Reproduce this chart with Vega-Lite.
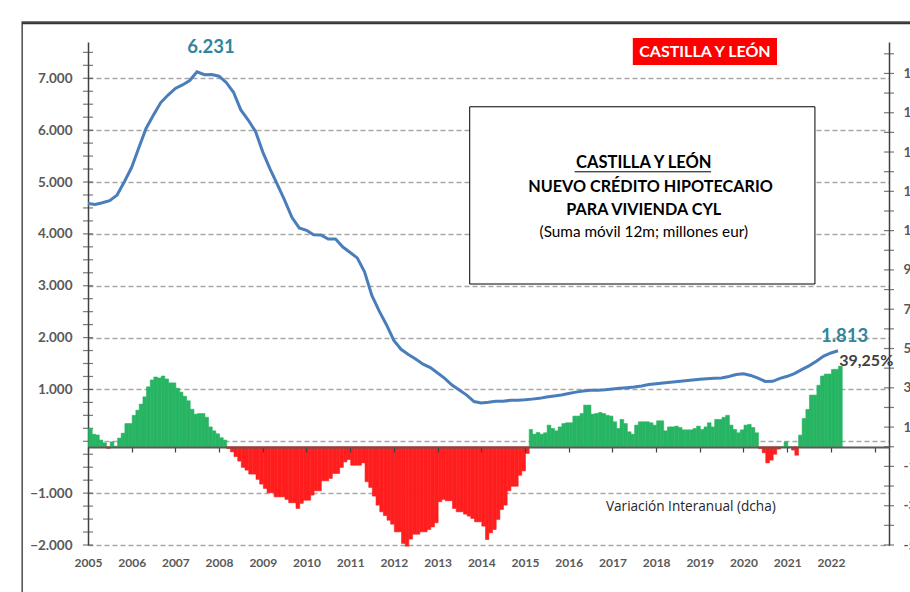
{
  "$schema": "https://vega.github.io/schema/vega-lite/v6.json",
  "width": 801,
  "height": 503,
  "autosize": {"type": "none"},
  "padding": {"left": 88, "top": 42, "right": 21, "bottom": 47},
  "background": "white",
  "config": {"view": {"stroke": null}, "font": "Lato"},
  "datasets": {
    "credito": [
      {"d":"2005-01","c":4586},{"d":"2005-03","c":4567},{"d":"2005-05","c":4600},{"d":"2005-07","c":4640},{"d":"2005-09","c":4748},{"d":"2005-11","c":5006},
      {"d":"2006-01","c":5284},{"d":"2006-03","c":5654},{"d":"2006-05","c":6033},{"d":"2006-07","c":6286},{"d":"2006-09","c":6532},{"d":"2006-11","c":6677},
      {"d":"2007-01","c":6805},{"d":"2007-03","c":6872},{"d":"2007-05","c":6956},{"d":"2007-07","c":7126},{"d":"2007-09","c":7070},{"d":"2007-11","c":7072},
      {"d":"2008-01","c":7040},{"d":"2008-03","c":6920},{"d":"2008-05","c":6730},{"d":"2008-07","c":6390},{"d":"2008-09","c":6195},{"d":"2008-11","c":5975},
      {"d":"2009-01","c":5577},{"d":"2009-03","c":5257},{"d":"2009-05","c":4958},{"d":"2009-07","c":4655},{"d":"2009-09","c":4318},{"d":"2009-11","c":4114},
      {"d":"2010-01","c":4068},{"d":"2010-03","c":3984},{"d":"2010-05","c":3978},{"d":"2010-07","c":3900},{"d":"2010-09","c":3903},{"d":"2010-11","c":3746},
      {"d":"2011-01","c":3640},{"d":"2011-03","c":3536},{"d":"2011-05","c":3266},{"d":"2011-07","c":2813},{"d":"2011-09","c":2509},{"d":"2011-11","c":2243},
      {"d":"2012-01","c":1944},{"d":"2012-03","c":1774},{"d":"2012-05","c":1674},{"d":"2012-07","c":1587},{"d":"2012-09","c":1487},{"d":"2012-11","c":1421},
      {"d":"2013-01","c":1318},{"d":"2013-03","c":1215},{"d":"2013-05","c":1084},{"d":"2013-07","c":989},{"d":"2013-09","c":890},{"d":"2013-11","c":766},
      {"d":"2014-01","c":738},{"d":"2014-03","c":752},{"d":"2014-05","c":771},{"d":"2014-07","c":771},{"d":"2014-09","c":790},{"d":"2014-11","c":790},
      {"d":"2015-01","c":800},{"d":"2015-03","c":813},{"d":"2015-05","c":828},{"d":"2015-07","c":855},{"d":"2015-09","c":875},{"d":"2015-11","c":892},
      {"d":"2016-01","c":920},{"d":"2016-03","c":948},{"d":"2016-05","c":970},{"d":"2016-07","c":983},{"d":"2016-09","c":983},{"d":"2016-11","c":993},
      {"d":"2017-01","c":1007},{"d":"2017-03","c":1021},{"d":"2017-05","c":1034},{"d":"2017-07","c":1048},{"d":"2017-09","c":1066},{"d":"2017-11","c":1094},
      {"d":"2018-01","c":1110},{"d":"2018-03","c":1124},{"d":"2018-05","c":1138},{"d":"2018-07","c":1152},{"d":"2018-09","c":1166},{"d":"2018-11","c":1180},
      {"d":"2019-01","c":1195},{"d":"2019-03","c":1208},{"d":"2019-05","c":1214},{"d":"2019-07","c":1221},{"d":"2019-09","c":1249},{"d":"2019-11","c":1286},
      {"d":"2020-01","c":1300},{"d":"2020-03","c":1270},{"d":"2020-05","c":1217},{"d":"2020-07","c":1154},{"d":"2020-09","c":1157},{"d":"2020-11","c":1213},
      {"d":"2021-01","c":1253},{"d":"2021-03","c":1304},{"d":"2021-05","c":1382},{"d":"2021-07","c":1455},{"d":"2021-09","c":1544},{"d":"2021-11","c":1642},
      {"d":"2022-01","c":1703},{"d":"2022-03","c":1746}
    ],
    "variacion": [
      {"d":"2005-01","p":9.3},{"d":"2005-02","p":6.4},{"d":"2005-03","p":6.0},{"d":"2005-04","p":3.4},{"d":"2005-05","p":2.0},{"d":"2005-06","p":-0.8},{"d":"2005-07","p":2.5},{"d":"2005-08","p":0.3},{"d":"2005-09","p":4.4},{"d":"2005-10","p":6.9},{"d":"2005-11","p":11.8},{"d":"2005-12","p":11.8},
      {"d":"2006-01","p":16},{"d":"2006-02","p":18.6},{"d":"2006-03","p":21.7},{"d":"2006-04","p":25.4},{"d":"2006-05","p":30.5},{"d":"2006-06","p":34},{"d":"2006-07","p":35.5},{"d":"2006-08","p":35},{"d":"2006-09","p":36},{"d":"2006-10","p":34.5},{"d":"2006-11","p":32.5},{"d":"2006-12","p":32.5},
      {"d":"2007-01","p":29.8},{"d":"2007-02","p":27.8},{"d":"2007-03","p":25.7},{"d":"2007-04","p":23.4},{"d":"2007-05","p":19.1},{"d":"2007-06","p":16.6},{"d":"2007-07","p":16.9},{"d":"2007-08","p":16.9},{"d":"2007-09","p":15},{"d":"2007-10","p":10.1},{"d":"2007-11","p":8.1},{"d":"2007-12","p":6.6},
      {"d":"2008-01","p":4.6},{"d":"2008-02","p":3.4},{"d":"2008-03","p":-0.9},{"d":"2008-04","p":-2.6},{"d":"2008-05","p":-5},{"d":"2008-06","p":-7.3},{"d":"2008-07","p":-10.5},{"d":"2008-08","p":-11.9},{"d":"2008-09","p":-13.9},{"d":"2008-10","p":-13.9},{"d":"2008-11","p":-16.6},{"d":"2008-12","p":-19},
      {"d":"2009-01","p":-21.2},{"d":"2009-02","p":-23.4},{"d":"2009-03","p":-23.4},{"d":"2009-04","p":-25.5},{"d":"2009-05","p":-25.5},{"d":"2009-06","p":-25.5},{"d":"2009-07","p":-26.8},{"d":"2009-08","p":-28.5},{"d":"2009-09","p":-28.5},{"d":"2009-10","p":-31.4},{"d":"2009-11","p":-28.8},{"d":"2009-12","p":-27.2},
      {"d":"2010-01","p":-27.2},{"d":"2010-02","p":-24.6},{"d":"2010-03","p":-22.4},{"d":"2010-04","p":-22.4},{"d":"2010-05","p":-17.3},{"d":"2010-06","p":-17.3},{"d":"2010-07","p":-16.1},{"d":"2010-08","p":-13.6},{"d":"2010-09","p":-13.6},{"d":"2010-10","p":-10.5},{"d":"2010-11","p":-7.7},{"d":"2010-12","p":-6.5},
      {"d":"2011-01","p":-9.4},{"d":"2011-02","p":-9.4},{"d":"2011-03","p":-9.4},{"d":"2011-04","p":-8.2},{"d":"2011-05","p":-17.8},{"d":"2011-06","p":-20.7},{"d":"2011-07","p":-25.1},{"d":"2011-08","p":-29.7},{"d":"2011-09","p":-33.1},{"d":"2011-10","p":-35},{"d":"2011-11","p":-37.4},{"d":"2011-12","p":-39.4},
      {"d":"2012-01","p":-43.3},{"d":"2012-02","p":-43.3},{"d":"2012-03","p":-49.2},{"d":"2012-04","p":-50.6},{"d":"2012-05","p":-47},{"d":"2012-06","p":-44.5},{"d":"2012-07","p":-44.5},{"d":"2012-08","p":-43.3},{"d":"2012-09","p":-43.3},{"d":"2012-10","p":-42.1},{"d":"2012-11","p":-40.8},{"d":"2012-12","p":-38.7},
      {"d":"2013-01","p":-28},{"d":"2013-02","p":-26.8},{"d":"2013-03","p":-27.5},{"d":"2013-04","p":-27.5},{"d":"2013-05","p":-31.4},{"d":"2013-06","p":-33.1},{"d":"2013-07","p":-33.1},{"d":"2013-08","p":-34.3},{"d":"2013-09","p":-35.3},{"d":"2013-10","p":-36.5},{"d":"2013-11","p":-38.2},{"d":"2013-12","p":-38.2},
      {"d":"2014-01","p":-40.4},{"d":"2014-02","p":-47.2},{"d":"2014-03","p":-43.8},{"d":"2014-04","p":-42.1},{"d":"2014-05","p":-37},{"d":"2014-06","p":-31.9},{"d":"2014-07","p":-29.7},{"d":"2014-08","p":-22.4},{"d":"2014-09","p":-20.1},{"d":"2014-10","p":-20.1},{"d":"2014-11","p":-14.5},{"d":"2014-12","p":-12.3},
      {"d":"2015-01","p":-3.4},{"d":"2015-02","p":8.8},{"d":"2015-03","p":6.4},{"d":"2015-04","p":7.3},{"d":"2015-05","p":6.4},{"d":"2015-06","p":7.1},{"d":"2015-07","p":11},{"d":"2015-08","p":9.3},{"d":"2015-09","p":8.1},{"d":"2015-10","p":10.1},{"d":"2015-11","p":11.8},{"d":"2015-12","p":12.2},
      {"d":"2016-01","p":12.2},{"d":"2016-02","p":15.6},{"d":"2016-03","p":15.6},{"d":"2016-04","p":16.9},{"d":"2016-05","p":21.2},{"d":"2016-06","p":21.2},{"d":"2016-07","p":16.6},{"d":"2016-08","p":16.9},{"d":"2016-09","p":17.4},{"d":"2016-10","p":16.9},{"d":"2016-11","p":16},{"d":"2016-12","p":15.6},
      {"d":"2017-01","p":12.7},{"d":"2017-02","p":9.3},{"d":"2017-03","p":13.9},{"d":"2017-04","p":11.8},{"d":"2017-05","p":7.6},{"d":"2017-06","p":6.4},{"d":"2017-07","p":11},{"d":"2017-08","p":12.7},{"d":"2017-09","p":12.7},{"d":"2017-10","p":12.7},{"d":"2017-11","p":12.2},{"d":"2017-12","p":11},
      {"d":"2018-01","p":13.2},{"d":"2018-02","p":13.2},{"d":"2018-03","p":8.1},{"d":"2018-04","p":10.1},{"d":"2018-05","p":10.1},{"d":"2018-06","p":10.5},{"d":"2018-07","p":9.8},{"d":"2018-08","p":8.6},{"d":"2018-09","p":8.6},{"d":"2018-10","p":8.6},{"d":"2018-11","p":9.3},{"d":"2018-12","p":10.5},
      {"d":"2019-01","p":8.8},{"d":"2019-02","p":10.1},{"d":"2019-03","p":12.2},{"d":"2019-04","p":10.1},{"d":"2019-05","p":13.9},{"d":"2019-06","p":13.9},{"d":"2019-07","p":15},{"d":"2019-08","p":16},{"d":"2019-09","p":11},{"d":"2019-10","p":8.8},{"d":"2019-11","p":7.1},{"d":"2019-12","p":8.6},
      {"d":"2020-01","p":11},{"d":"2020-02","p":11.4},{"d":"2020-03","p":9.8},{"d":"2020-04","p":7.1},{"d":"2020-05","p":-0.9},{"d":"2020-06","p":-3.1},{"d":"2020-07","p":-8.2},{"d":"2020-08","p":-6.8},{"d":"2020-09","p":-3.8},{"d":"2020-10","p":-1.2},{"d":"2020-11","p":0},{"d":"2020-12","p":2.5},
      {"d":"2021-01","p":0},{"d":"2021-02","p":-1.7},{"d":"2021-03","p":-4.3},{"d":"2021-04","p":5.9},{"d":"2021-05","p":14.4},{"d":"2021-06","p":19},{"d":"2021-07","p":26.3},{"d":"2021-08","p":26.3},{"d":"2021-09","p":31.3},{"d":"2021-10","p":36},{"d":"2021-11","p":37},{"d":"2021-12","p":37},
      {"d":"2022-01","p":39.4},{"d":"2022-02","p":39.4},{"d":"2022-03","p":41}
    ]
  },
  "layer": [
    {
      "data": {"values": [{}]},
      "mark": {"type": "rect", "fill": "white", "fillOpacity": 0, "stroke": "#4D4D4D", "strokeWidth": 1.5},
      "encoding": {
        "x": {"datum": {"year": 2003, "month": 7, "date": 1, "utc": true}, "type": "temporal", "axis": null},
        "x2": {"datum": {"year": 2024, "month": 3, "date": 1, "utc": true}},
        "y": {"datum": 8084, "type": "quantitative", "scale": {"domain": [-2000, 7700], "nice": false, "zero": false}, "axis": null},
        "y2": {"datum": -3300}
      }
    },
    {
      "data": {"values": [{}]},
      "mark": {"type": "rule", "color": "#333333", "strokeWidth": 2},
      "encoding": {
        "x": {"datum": {"year": 2003, "month": 7, "date": 1, "utc": true}, "type": "temporal", "axis": null},
        "x2": {"datum": {"year": 2023, "month": 12, "date": 1, "utc": true}},
        "y": {"datum": 8060, "type": "quantitative", "scale": {"domain": [-2000, 7700], "nice": false, "zero": false}, "axis": null}
      }
    },
    {
      "data": {"name": "credito"},
      "mark": {"type": "line", "color": "#4A7EBB", "strokeWidth": 3},
      "encoding": {
        "x": {
          "field": "d", "type": "temporal",
          "scale": {"type": "utc", "domain": [{"year": 2005, "month": 1, "date": 1, "utc": true}, {"year": 2023, "month": 5, "date": 1, "utc": true}]},
          "axis": {
            "orient": "bottom", "title": null,
            "values": [{"year":2005,"utc":true},{"year":2006,"utc":true},{"year":2007,"utc":true},{"year":2008,"utc":true},{"year":2009,"utc":true},{"year":2010,"utc":true},{"year":2011,"utc":true},{"year":2012,"utc":true},{"year":2013,"utc":true},{"year":2014,"utc":true},{"year":2015,"utc":true},{"year":2016,"utc":true},{"year":2017,"utc":true},{"year":2018,"utc":true},{"year":2019,"utc":true},{"year":2020,"utc":true},{"year":2021,"utc":true},{"year":2022,"utc":true}],
            "labelExpr": "utcFormat(datum.value, '%Y')",
            "labelFlush": false,
            "ticks": false, "tickSize": 0, "domain": false, "grid": false,
            "labelPadding": 12, "labelFont": "Lato", "labelFontWeight": "bold", "labelFontSize": 12, "labelColor": "#595959"
          }
        },
        "y": {
          "field": "c", "type": "quantitative",
          "scale": {"domain": [-2000, 7700], "nice": false, "zero": false},
          "axis": {
            "orient": "left", "title": null,
            "values": [-2000, -1000, 0, 1000, 2000, 3000, 4000, 5000, 6000, 7000],
            "labelExpr": "datum.value == 0 ? '' : replace(format(datum.value, ',d'), ',', '.')",
            "labelFlush": false,
            "ticks": false, "tickSize": 0, "labelPadding": 16,
            "labelFont": "Lato", "labelFontWeight": "bold", "labelFontSize": 13.5, "labelColor": "#595959",
            "domainColor": "#404040", "domainWidth": 1.5,
            "grid": true, "gridColor": "#A6A6A6", "gridDash": [5, 3], "gridWidth": 1.3
          }
        }
      }
    },
    {
      "data": {"values": [{"v":-2000},{"v":-1750},{"v":-1500},{"v":-1250},{"v":-1000},{"v":-750},{"v":-500},{"v":-250},{"v":0},{"v":250},{"v":500},{"v":750},{"v":1000},{"v":1250},{"v":1500},{"v":1750},{"v":2000},{"v":2250},{"v":2500},{"v":2750},{"v":3000},{"v":3250},{"v":3500},{"v":3750},{"v":4000},{"v":4250},{"v":4500},{"v":4750},{"v":5000},{"v":5250},{"v":5500},{"v":5750},{"v":6000},{"v":6250},{"v":6500},{"v":6750},{"v":7000},{"v":7250},{"v":7500}]},
      "mark": {"type": "tick", "orient": "horizontal", "size": 10, "thickness": 1.2, "color": "#404040"},
      "encoding": {
        "x": {"datum": {"year": 2005, "month": 1, "date": 1, "utc": true}, "type": "temporal", "axis": null},
        "y": {"field": "v", "type": "quantitative", "scale": {"domain": [-2000, 7700], "nice": false, "zero": false}, "axis": null}
      }
    },
    {
      "data": {"values": [{}]},
      "mark": {"type": "rect", "fill": "white", "stroke": "black", "strokeWidth": 1},
      "encoding": {
        "x": {"datum": {"year": 2013, "month": 9, "date": 26, "utc": true}, "type": "temporal", "axis": null},
        "x2": {"datum": {"year": 2021, "month": 8, "date": 20, "utc": true}},
        "y": {"datum": 6451, "type": "quantitative", "scale": {"domain": [-2000, 7700], "nice": false, "zero": false}, "axis": null},
        "y2": {"datum": 3033}
      }
    },
    {
      "data": {"values": [{}]},
      "mark": {"type": "text", "font": "Lato", "fontWeight": "bold", "fontSize": 16.5, "color": "black", "align": "center", "baseline": "middle"},
      "encoding": {
        "x": {"datum": {"year": 2017, "month": 9, "date": 20, "utc": true}, "type": "temporal", "axis": null},
        "y": {"datum": 5365, "type": "quantitative", "scale": {"domain": [-2000, 7700], "nice": false, "zero": false}, "axis": null},
        "text": {"value": "CASTILLA Y LEÓN"}
      }
    },
    {
      "data": {"values": [{}]},
      "mark": {"type": "rule", "color": "black", "strokeWidth": 1},
      "encoding": {
        "x": {"datum": {"year": 2016, "month": 2, "date": 20, "utc": true}, "type": "temporal", "axis": null},
        "x2": {"datum": {"year": 2019, "month": 4, "date": 5, "utc": true}},
        "y": {"datum": 5197, "type": "quantitative", "scale": {"domain": [-2000, 7700], "nice": false, "zero": false}, "axis": null}
      }
    },
    {
      "data": {"values": [{}]},
      "mark": {"type": "text", "font": "Lato", "fontWeight": "bold", "fontSize": 16.2, "color": "black", "align": "center", "baseline": "middle"},
      "encoding": {
        "x": {"datum": {"year": 2017, "month": 11, "date": 15, "utc": true}, "type": "temporal", "axis": null},
        "y": {"datum": 4901, "type": "quantitative", "scale": {"domain": [-2000, 7700], "nice": false, "zero": false}, "axis": null},
        "text": {"value": "NUEVO CRÉDITO  HIPOTECARIO"}
      }
    },
    {
      "data": {"values": [{}]},
      "mark": {"type": "text", "font": "Lato", "fontWeight": "bold", "fontSize": 16.2, "color": "black", "align": "center", "baseline": "middle"},
      "encoding": {
        "x": {"datum": {"year": 2017, "month": 9, "date": 20, "utc": true}, "type": "temporal", "axis": null},
        "y": {"datum": 4459, "type": "quantitative", "scale": {"domain": [-2000, 7700], "nice": false, "zero": false}, "axis": null},
        "text": {"value": "PARA VIVIENDA CYL"}
      }
    },
    {
      "data": {"values": [{}]},
      "mark": {"type": "text", "font": "Lato", "fontSize": 15.3, "color": "black", "align": "center", "baseline": "middle"},
      "encoding": {
        "x": {"datum": {"year": 2017, "month": 9, "date": 20, "utc": true}, "type": "temporal", "axis": null},
        "y": {"datum": 4041, "type": "quantitative", "scale": {"domain": [-2000, 7700], "nice": false, "zero": false}, "axis": null},
        "text": {"value": "(Suma móvil 12m; millones eur)"}
      }
    },
    {
      "data": {"values": [{}]},
      "mark": {"type": "rect", "fill": "#FF0000"},
      "encoding": {
        "x": {"datum": {"year": 2017, "month": 6, "date": 20, "utc": true}, "type": "temporal", "axis": null},
        "x2": {"datum": {"year": 2020, "month": 10, "date": 7, "utc": true}},
        "y": {"datum": 7776, "type": "quantitative", "scale": {"domain": [-2000, 7700], "nice": false, "zero": false}, "axis": null},
        "y2": {"datum": 7255}
      }
    },
    {
      "data": {"values": [{}]},
      "mark": {"type": "text", "font": "Lato", "fontWeight": "bold", "fontSize": 16, "color": "white", "align": "center", "baseline": "middle"},
      "encoding": {
        "x": {"datum": {"year": 2019, "month": 2, "date": 13, "utc": true}, "type": "temporal", "axis": null},
        "y": {"datum": 7515, "type": "quantitative", "scale": {"domain": [-2000, 7700], "nice": false, "zero": false}, "axis": null},
        "text": {"value": "CASTILLA Y LEÓN"}
      }
    },
    {
      "data": {"values": [{}]},
      "mark": {"type": "text", "font": "Lato", "fontWeight": "bold", "fontSize": 18.5, "color": "#31859C", "align": "center", "baseline": "middle"},
      "encoding": {
        "x": {"datum": {"year": 2007, "month": 10, "date": 26, "utc": true}, "type": "temporal", "axis": null},
        "y": {"datum": 7608, "type": "quantitative", "scale": {"domain": [-2000, 7700], "nice": false, "zero": false}, "axis": null},
        "text": {"value": "6.231"}
      }
    },
    {
      "data": {"values": [{}]},
      "mark": {"type": "text", "font": "Lato", "fontWeight": "bold", "fontSize": 18.5, "color": "#31859C", "align": "center", "baseline": "middle"},
      "encoding": {
        "x": {"datum": {"year": 2022, "month": 4, "date": 25, "utc": true}, "type": "temporal", "axis": null},
        "y": {"datum": 2036, "type": "quantitative", "scale": {"domain": [-2000, 7700], "nice": false, "zero": false}, "axis": null},
        "text": {"value": "1.813"}
      }
    },
    {
      "data": {"values": [{}]},
      "mark": {"type": "text", "font": "Lato", "fontWeight": "bold", "fontSize": 16, "color": "#404040", "align": "center", "baseline": "middle"},
      "encoding": {
        "x": {"datum": {"year": 2022, "month": 10, "date": 23, "utc": true}, "type": "temporal", "axis": null},
        "y": {"datum": 1554, "type": "quantitative", "scale": {"domain": [-2000, 7700], "nice": false, "zero": false}, "axis": null},
        "text": {"value": "39,25%"}
      }
    },
    {
      "data": {"values": [{}]},
      "mark": {"type": "text", "font": "Open Sans", "fontSize": 13.6, "color": "#262626", "align": "center", "baseline": "middle"},
      "encoding": {
        "x": {"datum": {"year": 2018, "month": 10, "date": 18, "utc": true}, "type": "temporal", "axis": null},
        "y": {"datum": -1261, "type": "quantitative", "scale": {"domain": [-2000, 7700], "nice": false, "zero": false}, "axis": null},
        "text": {"value": "Variación Interanual (dcha)"}
      }
    },
    {
      "data": {"name": "variacion"},
      "mark": {"type": "bar", "binSpacing": 0, "strokeWidth": 0.6},
      "encoding": {
        "x": {
          "field": "d", "timeUnit": "utcyearmonth", "type": "temporal",
          "axis": {
            "orient": "bottom", "offset": -98, "title": null, "labels": false,
            "values": [{"year":2005,"utc":true},{"year":2006,"utc":true},{"year":2007,"utc":true},{"year":2008,"utc":true},{"year":2009,"utc":true},{"year":2010,"utc":true},{"year":2011,"utc":true},{"year":2012,"utc":true},{"year":2013,"utc":true},{"year":2014,"utc":true},{"year":2015,"utc":true},{"year":2016,"utc":true},{"year":2017,"utc":true},{"year":2018,"utc":true},{"year":2019,"utc":true},{"year":2020,"utc":true},{"year":2021,"utc":true},{"year":2022,"utc":true},{"year":2023,"utc":true}],
            "ticks": true, "tickSize": 5, "tickColor": "#404040", "tickWidth": 1.2,
            "domain": true, "domainColor": "#595959", "domainWidth": 2, "grid": false, "zindex": 1
          }
        },
        "y": {
          "field": "p", "type": "quantitative",
          "scale": {"domain": [-50, 206], "nice": false, "zero": false},
          "axis": {
            "orient": "right", "title": null,
            "values": [-50, -30, -10, 10, 30, 50, 70, 90, 110, 130, 150, 170, 190],
            "labelExpr": "datum.value + '%'",
            "labelFlush": false,
            "ticks": false, "tickSize": 0, "labelPadding": 14,
            "labelFont": "Lato", "labelFontWeight": "bold", "labelFontSize": 13.5, "labelColor": "#595959",
            "domainColor": "#404040", "domainWidth": 1.5, "grid": false
          }
        },
        "fill": {"condition": {"test": "datum.p < 0", "value": "#FF1E1E"}, "value": "#27B563"},
        "stroke": {"condition": {"test": "datum.p < 0", "value": "#FF1E1E"}, "value": "#27B563"}
      }
    },
    {
      "data": {"values": [{"r":-50},{"r":-40},{"r":-30},{"r":-20},{"r":-10},{"r":0},{"r":10},{"r":20},{"r":30},{"r":40},{"r":50},{"r":60},{"r":70},{"r":80},{"r":90},{"r":100},{"r":110},{"r":120},{"r":130},{"r":140},{"r":150},{"r":160},{"r":170},{"r":180},{"r":190},{"r":200}]},
      "mark": {"type": "tick", "orient": "horizontal", "size": 10, "thickness": 1.2, "color": "#404040"},
      "encoding": {
        "x": {"datum": {"year": 2023, "month": 5, "date": 1, "utc": true}, "type": "temporal", "axis": null},
        "y": {"field": "r", "type": "quantitative", "scale": {"domain": [-50, 206], "nice": false, "zero": false}, "axis": null}
      }
    }
  ],
  "resolve": {"scale": {"y": "independent"}, "axis": {"x": "independent", "y": "independent"}}
}
